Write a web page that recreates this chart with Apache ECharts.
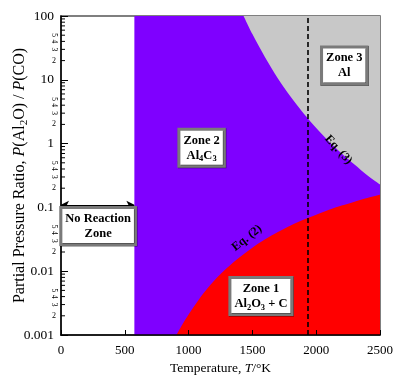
<!DOCTYPE html>
<html><head><meta charset="utf-8">
<script src="https://cdn.jsdelivr.net/npm/echarts@6/dist/echarts.min.js"></script>
<style>html,body{margin:0;padding:0;background:#fff}#c{width:408px;height:380px}</style>
</head><body><div id="c"></div>
<script>
// ---- data ----
const xTicks = [0, 500, 1000, 1500, 2000, 2500];
const yMajor = [0.001, 0.01, 0.1, 1, 10, 100];
const noReactionLimitT = 575;      // start of Zone 2 (K)
const dashedT = 1930;              // vertical dashed marker (K)
// Eq. (2): boundary between Zone 1 (below) and Zone 2
const eq2T = [905, 950, 1000, 1100, 1200, 1300, 1400, 1500, 1600, 1700, 1800, 1900, 2000, 2100, 2200, 2300, 2400, 2500];
const eq2P = [0.001, 0.00145, 0.0021, 0.0041, 0.0071, 0.0112, 0.0166, 0.0234, 0.0316, 0.041, 0.052, 0.064, 0.077, 0.092, 0.107, 0.123, 0.141, 0.158];
// Eq. (3): boundary between Zone 2 and Zone 3 (above)
const eq3T = [1431, 1500, 1600, 1700, 1800, 1900, 2000, 2100, 2200, 2300, 2400, 2500];
const eq3P = [100, 52, 22.4, 10.5, 5.4, 3.0, 1.76, 1.08, 0.70, 0.47, 0.32, 0.23];
const minorTicks = [0.002,0.003,0.004,0.005,0.006,0.007,0.008,0.009,
  0.02,0.03,0.04,0.05,0.06,0.07,0.08,0.09,
  0.2,0.3,0.4,0.5,0.6,0.7,0.8,0.9,
  2,3,4,5,6,7,8,9,
  20,30,40,50,60,70,80,90];
const minorLabelUpright = [0.002, 0.02, 0.2, 2, 20];
const minorLabelRotated = [0.003,0.004,0.005, 0.03,0.04,0.05, 0.3,0.4,0.5, 3,4,5, 30,40,50];
const zoneBoxes = [
  {pos: [291, 0.051], text: '{b|No Reaction}\n{b|Zone}'},
  {pos: [1102, 0.86], text: '{b|Zone 2}\n{b|Al}{bs|4}{b|C}{bs|3}'},
  {pos: [2220, 16.8], text: '{b|Zone 3}\n{b|Al}'},
  {pos: [1567, 0.0041], text: '{b|Zone 1}\n{b|Al}{bs|2}{b|O}{bs|3}{b| + C}'}
];
const eqLabels = [
  {pos: [1457, 0.033], text: 'Eq. (2)', rot: 38},
  {pos: [2173, 0.80], text: 'Eq. (3)', rot: -48}
];
const arrowP = 0.11;

const FONT = "'Liberation Serif','Times New Roman',serif";
const chart = echarts.init(document.getElementById('c'), null, {renderer: 'canvas'});

const boxRich = {
  b: {fontFamily: FONT, fontWeight: 'bold', fontSize: 12.5, color: '#000', lineHeight: 15, verticalAlign: 'middle'},
  bs: {fontFamily: FONT, fontWeight: 'bold', fontSize: 8.5, color: '#000', lineHeight: 15, verticalAlign: 'bottom', padding: [0,0,-1,0]}
};
const minorFmt = p => String(Math.round(p.value[1] / Math.pow(10, Math.floor(Math.log10(p.value[1]) + 1e-9))));

chart.setOption({
  animation: false,
  backgroundColor: '#fff',
  grid: {left: 61, right: 28, top: 16, bottom: 45, containLabel: false, outerBoundsMode: 'none',
    show: true, borderColor: '#555', borderWidth: 1.5, backgroundColor: 'transparent'},
  xAxis: {
    type: 'value', min: 0, max: 2500, interval: 500,
    axisLine: {show: true, onZero: false, lineStyle: {color: '#000', width: 1.5}},
    axisTick: {show: true, inside: true, length: 5, lineStyle: {color: '#000', width: 1}},
    splitLine: {show: false},
    axisLabel: {color: '#000', fontFamily: FONT, fontSize: 13, margin: 9, formatter: v => String(v)},
    name: '{r|Temperature, }{i|T}{r|/°K}', nameLocation: 'middle', nameGap: 26, nameMoveOverlap: false,
    nameTextStyle: {rich: {r: {fontFamily: FONT, fontSize: 13.5, color: '#000'}, i: {fontFamily: FONT, fontSize: 13.5, fontStyle: 'italic', color: '#000'}}},
    z: 10
  },
  yAxis: {
    type: 'log', logBase: 10, min: 0.001, max: 100,
    axisLine: {show: true, onZero: false, lineStyle: {color: '#000', width: 1.5}},
    axisTick: {show: true, inside: true, length: 7, lineStyle: {color: '#000', width: 1}},
    splitLine: {show: false},
    axisLabel: {color: '#000', fontFamily: FONT, fontSize: 13.5, margin: 7,
      formatter: v => {const m = yMajor.find(t => Math.abs(Math.log10(t) - Math.log10(v)) < 1e-6); return m === undefined ? '' : String(m);}},
    name: '{r|Partial Pressure Ratio, }{i|P}{r|(Al}{s|2}{r|O) / }{i|P}{r|(CO)}',
    nameLocation: 'middle', nameGap: 32, nameRotate: 90, nameMoveOverlap: false,
    nameTextStyle: {rich: {
      r: {fontFamily: FONT, fontSize: 16, color: '#000', lineHeight: 18},
      i: {fontFamily: FONT, fontSize: 16, fontStyle: 'italic', color: '#000', lineHeight: 18},
      s: {fontFamily: FONT, fontSize: 11, color: '#000', lineHeight: 18, verticalAlign: 'bottom', padding: [0,0,-1,0]}
    }},
    z: 10
  },
  series: [
    { // Zone 2 background (purple)
      type: 'line', data: [[noReactionLimitT, 100], [2500, 100]], showSymbol: false,
      lineStyle: {width: 0}, areaStyle: {color: '#7F00FF', opacity: 1, origin: 'start'}, z: 1, silent: true
    },
    { // Zone 3 (grey), above Eq. (3)
      type: 'line', data: eq3T.map((t, i) => [t, eq3P[i]]), showSymbol: false, smooth: 0.3,
      lineStyle: {width: 0}, areaStyle: {color: '#C8C8C8', opacity: 1, origin: 'end'}, z: 2, silent: true
    },
    { // Zone 1 (red), below Eq. (2)
      type: 'line', data: eq2T.map((t, i) => [t, eq2P[i]]), showSymbol: false, smooth: 0.3,
      lineStyle: {width: 0}, areaStyle: {color: '#FF0000', opacity: 1, origin: 'start'}, z: 3, silent: true,
      markLine: {
        silent: true, symbol: ['none', 'none'], animation: false,
        label: {show: false},
        lineStyle: {color: '#000', type: [5, 3], width: 1.6},
        data: [{xAxis: dashedT}]
      }
    },
    { // No reaction arrow
      type: 'line', data: [], z: 5,
      markLine: {
        silent: true, animation: false, symbol: ['arrow', 'arrow'], symbolSize: [6, 8],
        label: {show: false},
        lineStyle: {color: '#000', type: 'solid', width: 1},
        data: [[{coord: [0, arrowP]}, {coord: [noReactionLimitT, arrowP]}]]
      }
    },
    { // minor y ticks
      type: 'scatter', clip: false, silent: true, z: 11,
      data: minorTicks.map(v => [0, v]), symbol: 'rect', symbolSize: [4, 1], symbolOffset: [2, 0],
      itemStyle: {color: '#000', opacity: 1}
    },
    { // minor labels upright
      type: 'scatter', clip: false, silent: true, z: 11,
      data: minorLabelUpright.map(v => [0, v]), symbolSize: 0, itemStyle: {opacity: 1},
      label: {show: true, position: 'left', distance: 5, formatter: minorFmt,
        fontFamily: FONT, fontSize: 8, color: '#000'}
    },
    { // minor labels rotated
      type: 'scatter', clip: false, silent: true, z: 11,
      data: minorLabelRotated.map(v => [0, v]), symbolSize: 0, itemStyle: {opacity: 1},
      label: {show: true, position: 'left', distance: 7, rotate: -90, align: 'center', verticalAlign: 'middle',
        formatter: minorFmt, fontFamily: FONT, fontSize: 7.5, color: '#000'}
    },
    { // zone boxes
      type: 'scatter', clip: false, silent: true, z: 20, symbolSize: 0, itemStyle: {opacity: 1},
      data: zoneBoxes.map(z => ({value: z.pos, label: {formatter: z.text}})),
      label: {show: true, position: 'inside', align: 'center', verticalAlign: 'middle',
        backgroundColor: '#fff', borderColor: '#7a7a7a', borderWidth: 3, padding: [2, 3, 2, 3],
        shadowColor: 'rgba(0,0,0,0.6)', shadowBlur: 0, shadowOffsetX: 0.5, shadowOffsetY: 0.5,
        rich: boxRich}
    },
    { // Eq labels
      type: 'scatter', clip: false, silent: true, z: 20, symbolSize: 0, itemStyle: {opacity: 1},
      data: eqLabels.map(e => ({value: e.pos, label: {formatter: e.text, rotate: e.rot}})),
      label: {show: true, position: 'inside', align: 'center', verticalAlign: 'middle',
        fontFamily: FONT, fontWeight: 'bold', fontSize: 12, color: '#000'}
    }
  ]
});
</script></body></html>
